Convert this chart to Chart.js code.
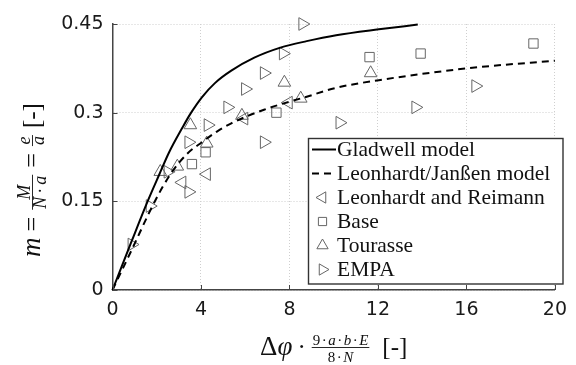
<!DOCTYPE html>
<html><head><meta charset="utf-8">
<script src="https://cdn.jsdelivr.net/npm/chart.js@4.4.0/dist/chart.umd.min.js"></script>
<style>html,body{margin:0;padding:0;background:#fff;}</style>
</head><body>
<canvas id="c" width="576" height="365"></canvas>
<script>
// ---- data ----
const xTicks = [0, 4, 8, 12, 16, 20];
const yTicks = [0, 0.15, 0.3, 0.45];

const gladwellX = [0, 0.87, 1.61, 2.11, 2.56, 3.15, 3.52, 4.04, 4.63, 5.37, 6.41, 7.59, 8.78, 10.11, 12.04, 13.8];
const gladwellY = [0, 0.083, 0.152, 0.195, 0.233, 0.274, 0.298, 0.326, 0.350, 0.371, 0.393, 0.410, 0.421, 0.431, 0.441, 0.449];

const janssenX = [0, 0.87, 1.9, 2.64, 3.39, 4.04, 4.72, 5.37, 6.85, 8.78, 10.11, 12.04, 16.04, 20];
const janssenY = [0, 0.068, 0.149, 0.197, 0.231, 0.250, 0.268, 0.282, 0.305, 0.327, 0.342, 0.355, 0.375, 0.388];

const reimannX = [3.15, 4.26, 5.95, 7.96];
const reimannY = [0.182, 0.196, 0.290, 0.317];

const baseX = [3.59, 4.21, 7.41, 11.62, 13.93, 19.03];
const baseY = [0.213, 0.233, 0.300, 0.394, 0.400, 0.417];

const tourasseX = [2.16, 2.93, 3.52, 4.26, 5.85, 7.77, 8.51, 11.67];
const tourasseY = [0.200, 0.209, 0.279, 0.248, 0.295, 0.351, 0.324, 0.367];

const empaX = [0.87, 1.69, 2.5, 3.44, 3.44, 4.31, 5.2, 6.0, 6.85, 6.85, 7.71, 8.59, 10.27, 13.70, 16.41];
const empaY = [0.077, 0.142, 0.200, 0.166, 0.250, 0.279, 0.309, 0.340, 0.367, 0.250, 0.400, 0.450, 0.283, 0.309, 0.345];

const seriesLabels = ['Gladwell model', 'Leonhardt/Janßen model', 'Leonhardt and Reimann', 'Base', 'Tourasse', 'EMPA'];

// ---- build ----
const pts = (xs, ys) => xs.map((x, i) => ({x: x, y: ys[i]}));
const MK = '#666666';
const marker = (style, rot, r) => ({
  showLine: false, pointStyle: style, rotation: rot, pointRadius: r, pointHoverRadius: r, clip: false,
  pointBorderColor: MK, pointBackgroundColor: 'rgba(0,0,0,0)', pointBorderWidth: 1
});

const datasets = [
  {label: seriesLabels[0], data: pts(gladwellX, gladwellY), showLine: true, borderColor: '#000', borderWidth: 2,
   pointRadius: 0, cubicInterpolationMode: 'monotone', fill: false, clip: false},
  {label: seriesLabels[1], data: pts(janssenX, janssenY), showLine: true, borderColor: '#000', borderWidth: 2,
   borderDash: [7, 5], pointRadius: 0, cubicInterpolationMode: 'monotone', fill: false, clip: false},
  Object.assign({label: seriesLabels[2], data: pts(reimannX, reimannY)}, marker('triangle', -90, 7.3)),
  Object.assign({label: seriesLabels[3], data: pts(baseX, baseY)}, marker('rect', 0, 6.6)),
  Object.assign({label: seriesLabels[4], data: pts(tourasseX, tourasseY)}, marker('triangle', 0, 7.3)),
  Object.assign({label: seriesLabels[5], data: pts(empaX, empaY)}, marker('triangle', 90, 7.3))
];

const SERIF = '"Liberation Serif", "DejaVu Serif", serif';
function isIt(ch) { return /[A-Za-zφ]/.test(ch); }
function fnt(ch, size) { return (isIt(ch) ? 'italic ' : '') + size + 'px ' + SERIF; }
function runW(ctx, s, size, sp) {
  let w = 0;
  for (const ch of s) { ctx.font = fnt(ch, size); w += ctx.measureText(ch).width + (ch === '·' ? 2 * sp : 0); }
  return w;
}
function drawRun(ctx, s, x, y, size, sp) {
  for (const ch of s) {
    ctx.font = fnt(ch, size);
    if (ch === '·') x += sp;
    ctx.fillText(ch, x, y);
    x += ctx.measureText(ch).width;
    if (ch === '·') x += sp;
  }
  return x;
}
function segW(ctx, g) {
  if (g.t === 'gap') return g.w;
  if (g.t === 'txt') return runW(ctx, g.s, g.size, g.sp || 0);
  return Math.max(runW(ctx, g.num, g.size, g.sp || 0), runW(ctx, g.den, g.size, g.sp || 0)) + 4;
}
function drawMath(ctx, segs, cx, base) {
  let total = 0; segs.forEach(g => total += segW(ctx, g));
  let x = cx - total / 2;
  ctx.textBaseline = 'alphabetic'; ctx.textAlign = 'left'; ctx.fillStyle = '#111'; ctx.strokeStyle = '#111';
  segs.forEach(g => {
    const w = segW(ctx, g);
    if (g.t === 'txt') drawRun(ctx, g.s, x, base, g.size, g.sp || 0);
    else if (g.t === 'frac') {
      const bar = base - g.axis;
      const nw = runW(ctx, g.num, g.size, g.sp || 0), dw = runW(ctx, g.den, g.size, g.sp || 0);
      drawRun(ctx, g.num, x + (w - nw) / 2, bar - g.nUp, g.size, g.sp || 0);
      drawRun(ctx, g.den, x + (w - dw) / 2, bar + g.dDown, g.size, g.sp || 0);
      ctx.lineWidth = 0.9; ctx.beginPath(); ctx.moveTo(x + 1, bar); ctx.lineTo(x + w - 1, bar); ctx.stroke();
    }
    x += w;
  });
}

const deco = {
  id: 'deco',
  afterDatasetsDraw(chart) {
    const {ctx, chartArea: a, scales: {x, y}} = chart;
    ctx.save();
    // inward ticks
    ctx.strokeStyle = '#444'; ctx.lineWidth = 1; ctx.setLineDash([]);
    ctx.beginPath();
    xTicks.forEach(v => { const p = Math.round(x.getPixelForValue(v)) + 0.5; ctx.moveTo(p, a.bottom); ctx.lineTo(p, a.bottom - 5); });
    yTicks.forEach(v => { const p = Math.round(y.getPixelForValue(v)) + 0.5; ctx.moveTo(a.left, p); ctx.lineTo(a.left + 5, p); });
    ctx.stroke();

    // legend box
    const L = {x0: 308.5, y0: 138.5, x1: 563, y1: 284, rowTop: 149.5, rowH: 24, mx: 322.5, tx: 337};
    ctx.fillStyle = '#fff'; ctx.fillRect(L.x0, L.y0, L.x1 - L.x0, L.y1 - L.y0);
    ctx.strokeStyle = '#333'; ctx.lineWidth = 1.4; ctx.strokeRect(L.x0, L.y0, L.x1 - L.x0, L.y1 - L.y0);
    chart.data.datasets.forEach((ds, i) => {
      const cy = L.rowTop + i * L.rowH;
      if (ds.showLine) {
        ctx.strokeStyle = '#000'; ctx.lineWidth = 2; ctx.setLineDash(ds.borderDash || []);
        ctx.beginPath(); ctx.moveTo(312, cy); ctx.lineTo(336, cy); ctx.stroke(); ctx.setLineDash([]);
      } else {
        ctx.strokeStyle = MK; ctx.fillStyle = 'rgba(0,0,0,0)'; ctx.lineWidth = 1;
        Chart.helpers.drawPoint(ctx, {pointStyle: ds.pointStyle, rotation: ds.rotation,
          radius: ds.pointStyle === 'rect' ? 5.8 : 6.5, borderWidth: 1}, L.mx, cy);
      }
      ctx.fillStyle = '#111'; ctx.font = '21.5px ' + SERIF; ctx.textAlign = 'left'; ctx.textBaseline = 'middle';
      ctx.fillText(ds.label, L.tx, cy + 1);
    });

    // x axis title: Δφ · (9·a·b·E)/(8·N)  [-]
    drawMath(ctx, [
      {t: 'txt', s: 'Δφ', size: 27, sp: 0}, {t: 'gap', w: 5},
      {t: 'txt', s: '·', size: 25, sp: 0}, {t: 'gap', w: 5},
      {t: 'frac', num: '9·a·b·E', den: '8·N', size: 15, sp: 1.5, axis: 7.5, nUp: 3, dDown: 14},
      {t: 'gap', w: 12},
      {t: 'txt', s: '[-]', size: 25, sp: 0}
    ], (a.left + a.right) / 2, 355);

    // y axis title: m = M/(N·a) = e/a [-]
    ctx.save();
    ctx.translate(40, 180);
    ctx.rotate(-Math.PI / 2);
    drawMath(ctx, [
      {t: 'txt', s: 'm', size: 27, sp: 0}, {t: 'gap', w: 6},
      {t: 'txt', s: '=', size: 26, sp: 0}, {t: 'gap', w: 6},
      {t: 'frac', num: 'M', den: 'N·a', size: 18, sp: 3, axis: 7.5, nUp: 3, dDown: 13},
      {t: 'gap', w: 6},
      {t: 'txt', s: '=', size: 26, sp: 0}, {t: 'gap', w: 6},
      {t: 'frac', num: 'e', den: 'a', size: 18, sp: 0, axis: 7.5, nUp: 3, dDown: 11},
      {t: 'gap', w: 6},
      {t: 'txt', s: '[-]', size: 25, sp: 0}
    ], 0, 0);
    ctx.restore();
    ctx.restore();
  }
};

const tickFont = {family: '"DejaVu Sans", sans-serif', size: 19};

new Chart(document.getElementById('c'), {
  type: 'scatter',
  data: {datasets: datasets},
  options: {
    responsive: false, animation: false, devicePixelRatio: 1,
    layout: {padding: {top: 24, right: 13, left: 0, bottom: 0}},
    plugins: {legend: {display: false}, tooltip: {enabled: false}},
    scales: {
      x: {
        type: 'linear', min: 0, max: 20,
        afterBuildTicks: s => { s.ticks = xTicks.map(v => ({value: v})); },
        afterFit: s => { s.height = 75; },
        ticks: {font: tickFont, color: '#1a1a1a', padding: 9, maxRotation: 0, callback: v => String(v)},
        grid: {color: '#cfcfcf', lineWidth: 1, drawTicks: false},
        border: {display: true, color: '#444', width: 1.5, dash: [1, 2]}
      },
      y: {
        type: 'linear', min: 0, max: 0.45,
        afterBuildTicks: s => { s.ticks = yTicks.map(v => ({value: v})); },
        afterFit: s => { s.width = 112.5; },
        ticks: {font: tickFont, color: '#1a1a1a', padding: 9, callback: v => String(v)},
        grid: {color: '#cfcfcf', lineWidth: 1, drawTicks: false},
        border: {display: true, color: '#444', width: 1.5, dash: [1, 2]}
      }
    }
  },
  plugins: [deco]
});
</script>
</body></html>
